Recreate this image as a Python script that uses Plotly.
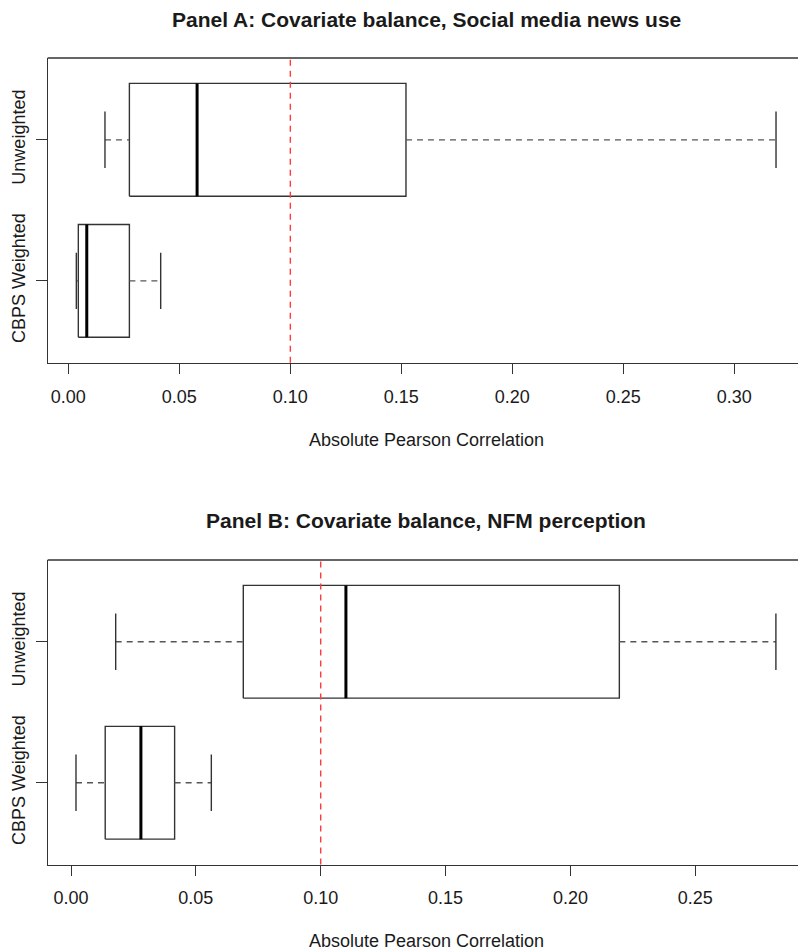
import plotly.graph_objects as go

# ---------------- data ----------------
groups = ["CBPS Weighted", "Unweighted"]          # y positions 1, 2

# Panel A: Social media news use
a_low = [0.0036, 0.0165]
a_q1 = [0.0045, 0.0275]
a_med = [0.0083, 0.0580]
a_q3 = [0.0275, 0.1521]
a_high = [0.0416, 0.3188]

# Panel B: NFM perception
b_low = [0.0020, 0.0179]
b_q1 = [0.0137, 0.0690]
b_med = [0.0280, 0.1101]
b_q3 = [0.0415, 0.2196]
b_high = [0.0562, 0.2823]

threshold = 0.10

a_ticks = [0.00, 0.05, 0.10, 0.15, 0.20, 0.25, 0.30]
b_ticks = [0.00, 0.05, 0.10, 0.15, 0.20, 0.25]

title_a = "Panel A: Covariate balance, Social media news use"
title_b = "Panel B: Covariate balance, NFM perception"
x_title = "Absolute Pearson Correlation"

# ---------------- styling ----------------
W, H = 798, 951
FONT = "Liberation Sans, Arial, Helvetica, sans-serif"
LINE = "#333333"
TXT = "#1a1a1a"
HALF = 0.4     # half box width
CAP = 0.2      # half staple width

fig = go.Figure()


def add_panel(low, q1, med, q3, high, xa, ya):
    for i in range(len(groups)):
        p = i + 1
        # box
        fig.add_trace(go.Scatter(
            x=[q1[i], q3[i], q3[i], q1[i], q1[i]],
            y=[p - HALF, p - HALF, p + HALF, p + HALF, p - HALF],
            mode="lines", line=dict(color=LINE, width=1.4),
            xaxis=xa, yaxis=ya, showlegend=False, hoverinfo="skip"))
        # whiskers (dashed)
        for xs in ([low[i], q1[i]], [q3[i], high[i]]):
            fig.add_trace(go.Scatter(
                x=xs, y=[p, p], mode="lines",
                line=dict(color="#555555", width=1.3, dash="6px,5px"),
                xaxis=xa, yaxis=ya, showlegend=False, hoverinfo="skip"))
        # staples
        for xv in (low[i], high[i]):
            fig.add_trace(go.Scatter(
                x=[xv, xv], y=[p - CAP, p + CAP], mode="lines",
                line=dict(color=LINE, width=1.4),
                xaxis=xa, yaxis=ya, showlegend=False, hoverinfo="skip"))
        # median
        fig.add_trace(go.Scatter(
            x=[med[i], med[i]], y=[p - HALF, p + HALF], mode="lines",
            line=dict(color="#000000", width=3),
            xaxis=xa, yaxis=ya, showlegend=False, hoverinfo="skip"))


add_panel(a_low, a_q1, a_med, a_q3, a_high, "x", "y")
add_panel(b_low, b_q1, b_med, b_q3, b_high, "x2", "y2")

# threshold lines
for xr, yr in (("x", "y domain"), ("x2", "y2 domain")):
    fig.add_shape(type="line", xref=xr, yref=yr, x0=threshold, x1=threshold,
                  y0=0, y1=1, layer="above",
                  line=dict(color="#ff3b3b", width=1.4, dash="6px,5px"))

# top frame lines (right side of the frame lies outside the picture)
for xr, yr in (("x domain", "y domain"), ("x2 domain", "y2 domain")):
    fig.add_shape(type="line", xref=xr, yref=yr, x0=0, x1=1.02, y0=1, y1=1,
                  layer="above", line=dict(color=LINE, width=1.4))

left = 47.7 / W


def px_to_paper_y(py):
    return 1 - py / H


xcommon = dict(showgrid=False, zeroline=False, showline=True, linecolor=LINE,
               linewidth=1.4, mirror=False, ticks="outside", ticklen=10,
               tickwidth=1.3, tickcolor=LINE,
               tickfont=dict(family=FONT, size=18, color=TXT),
               ticklabelstandoff=7)
ycommon = dict(showgrid=False, zeroline=False, showline=True, linecolor=LINE,
               linewidth=1.4, mirror=False, ticks="outside", ticklen=11,
               tickwidth=1.3, tickcolor=LINE, tickangle=-90,
               tickvals=[1, 2], ticktext=groups, range=[0.42, 2.58],
               tickfont=dict(family=FONT, size=18, color=TXT),
               ticklabelstandoff=3)

fig.update_layout(
    width=W, height=H,
    margin=dict(l=0, r=0, t=0, b=0),
    paper_bgcolor="white", plot_bgcolor="white",
    xaxis=dict(domain=[left, 1], anchor="y",
               range=[-0.0093, 0.3287],
               tickvals=a_ticks, ticktext=[f"{v:.2f}" for v in a_ticks],
               **xcommon),
    yaxis=dict(domain=[px_to_paper_y(362.7), px_to_paper_y(58)], anchor="x",
               **ycommon),
    xaxis2=dict(domain=[left, 1], anchor="y2",
                range=[-0.00933, 0.29115],
                tickvals=b_ticks, ticktext=[f"{v:.2f}" for v in b_ticks],
                **xcommon),
    yaxis2=dict(domain=[px_to_paper_y(864.5), px_to_paper_y(560)], anchor="x2",
                **ycommon),
)

cx = 426 / W
annots = [
    (title_a, 19.5, 21, True),
    (title_b, 520.3, 21, True),
    (x_title, 440, 18, False),
    (x_title, 940.5, 18, False),
]
for text, py, size, bold in annots:
    fig.add_annotation(
        text=f"<b>{text}</b>" if bold else text,
        x=cx, y=px_to_paper_y(py), xref="paper", yref="paper",
        xanchor="center", yanchor="middle", showarrow=False,
        font=dict(family=FONT, size=size, color=TXT))

fig.write_html("out.html",
               config={"displayModeBar": False},
               post_script="document.body.style.margin='0';"
                           "document.body.style.overflow='hidden';")
